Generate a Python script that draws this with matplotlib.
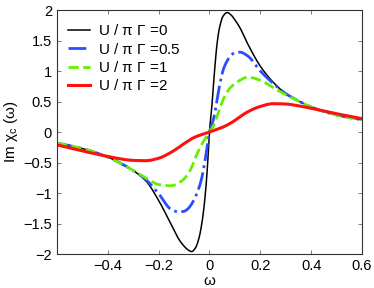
import numpy as np
import matplotlib
matplotlib.use("Agg")
import matplotlib.pyplot as plt

plt.rcParams['font.family'] = ['Liberation Sans', 'DejaVu Sans']
plt.rcParams['mathtext.fontset'] = 'custom'
plt.rcParams['mathtext.rm'] = 'Liberation Sans'
plt.rcParams['mathtext.it'] = 'Liberation Sans'

omega = [-0.6, -0.5, -0.4, -0.35, -0.3, -0.25, -0.2, -0.15, -0.12, -0.1, -0.085, -0.07,
         -0.055, -0.04, -0.03, -0.02, -0.01, 0.0, 0.01, 0.02, 0.03, 0.04, 0.055, 0.07,
         0.085, 0.1, 0.12, 0.15, 0.2, 0.25, 0.3, 0.35, 0.4, 0.5, 0.6]

u0 = [-0.18, -0.27, -0.41, -0.51, -0.63, -0.80, -1.12, -1.52, -1.76, -1.87, -1.93, -1.96,
      -1.90, -1.72, -1.50, -1.18, -0.70, 0.0, 0.45, 1.00, 1.45, 1.72, 1.91, 1.96,
      1.92, 1.84, 1.71, 1.45, 1.08, 0.82, 0.63, 0.51, 0.41, 0.28, 0.20]

u05 = [-0.18, -0.27, -0.41, -0.51, -0.63, -0.78, -1.01, -1.27, -1.31, -1.30, -1.26, -1.18,
       -1.06, -0.90, -0.75, -0.53, -0.27, 0.0, 0.12, 0.29, 0.53, 0.77, 1.03, 1.17,
       1.26, 1.30, 1.31, 1.25, 1.00, 0.80, 0.63, 0.51, 0.41, 0.28, 0.20]

u1 = [-0.18, -0.27, -0.41, -0.51, -0.63, -0.75, -0.86, -0.88, -0.83, -0.77, -0.69, -0.58,
      -0.42, -0.28, -0.20, -0.13, -0.06, 0.0, 0.06, 0.14, 0.26, 0.38, 0.54, 0.66,
      0.74, 0.79, 0.85, 0.90, 0.85, 0.73, 0.61, 0.51, 0.41, 0.28, 0.20]

u2 = [-0.21, -0.31, -0.40, -0.44, -0.465, -0.47, -0.43, -0.33, -0.25, -0.19, -0.15, -0.11,
      -0.08, -0.055, -0.04, -0.027, -0.013, 0.0, 0.015, 0.03, 0.045, 0.06, 0.085, 0.115,
      0.15, 0.19, 0.25, 0.33, 0.42, 0.465, 0.46, 0.43, 0.39, 0.30, 0.22]

labels = [r'U / $\pi$ $\Gamma$ =0', r'U / $\pi$ $\Gamma$ =0.5',
          r'U / $\pi$ $\Gamma$ =1', r'U / $\pi$ $\Gamma$ =2']


def pchip(x, y, xn):
    x = np.asarray(x, float); y = np.asarray(y, float)
    h = np.diff(x); d = np.diff(y) / h
    m = np.zeros_like(y)
    for k in range(1, len(x) - 1):
        if d[k - 1] * d[k] > 0:
            w1 = 2 * h[k] + h[k - 1]; w2 = h[k] + 2 * h[k - 1]
            m[k] = (w1 + w2) / (w1 / d[k - 1] + w2 / d[k])
    m[0] = d[0]; m[-1] = d[-1]
    idx = np.clip(np.searchsorted(x, xn) - 1, 0, len(x) - 2)
    t = (xn - x[idx]) / h[idx]
    h00 = 2 * t**3 - 3 * t**2 + 1; h10 = t**3 - 2 * t**2 + t
    h01 = -2 * t**3 + 3 * t**2; h11 = t**3 - t**2
    return h00 * y[idx] + h10 * h[idx] * m[idx] + h01 * y[idx + 1] + h11 * h[idx] * m[idx + 1]


xf = np.linspace(-0.6, 0.6, 1200)

fig = plt.figure(figsize=(3.74, 2.88), dpi=100)
ax = fig.add_axes([0.152, 0.118, 0.816, 0.847])

ax.plot(xf, pchip(omega, u0, xf), color='black', lw=1.1, label=labels[0])
ax.plot(xf, pchip(omega, u05, xf), color='#2a4dff', lw=2.0, ls='-.', label=labels[1])
ax.plot(xf, pchip(omega, u1, xf), color='#66ee00', lw=2.0, ls='--', label=labels[2])
ax.plot(xf, pchip(omega, u2, xf), color='#ff1010', lw=2.2, label=labels[3])

ax.set_xlim(-0.6, 0.6)
ax.set_ylim(-2, 2)
ax.set_xticks([-0.4, -0.2, 0, 0.2, 0.4, 0.6])
ax.set_xticklabels(['\u22120.4', '\u22120.2', '0', '0.2', '0.4', '0.6'])
ax.set_yticks([-2, -1.5, -1, -0.5, 0, 0.5, 1, 1.5, 2])
ax.set_yticklabels(['\u22122', '\u22121.5', '\u22121', '\u22120.5', '0', '0.5', '1', '1.5', '2'])
ax.tick_params(direction='in', top=True, right=True, labelsize=10.5, length=3, width=0.6,
               color='#666666')
for s in ax.spines.values():
    s.set_linewidth(0.8)
    s.set_color('#333333')

ax.set_xlabel(r'$\omega$', fontsize=11, labelpad=1)
ax.set_ylabel(r'Im $\chi_c$ ($\omega$)', fontsize=11, labelpad=2)

ax.legend(loc='upper left', frameon=False, fontsize=11, handlelength=1.5,
          handletextpad=0.5, labelspacing=0.22, borderaxespad=0.3,
          bbox_to_anchor=(0.0, 0.99))

fig.savefig('out.png', dpi=100)
